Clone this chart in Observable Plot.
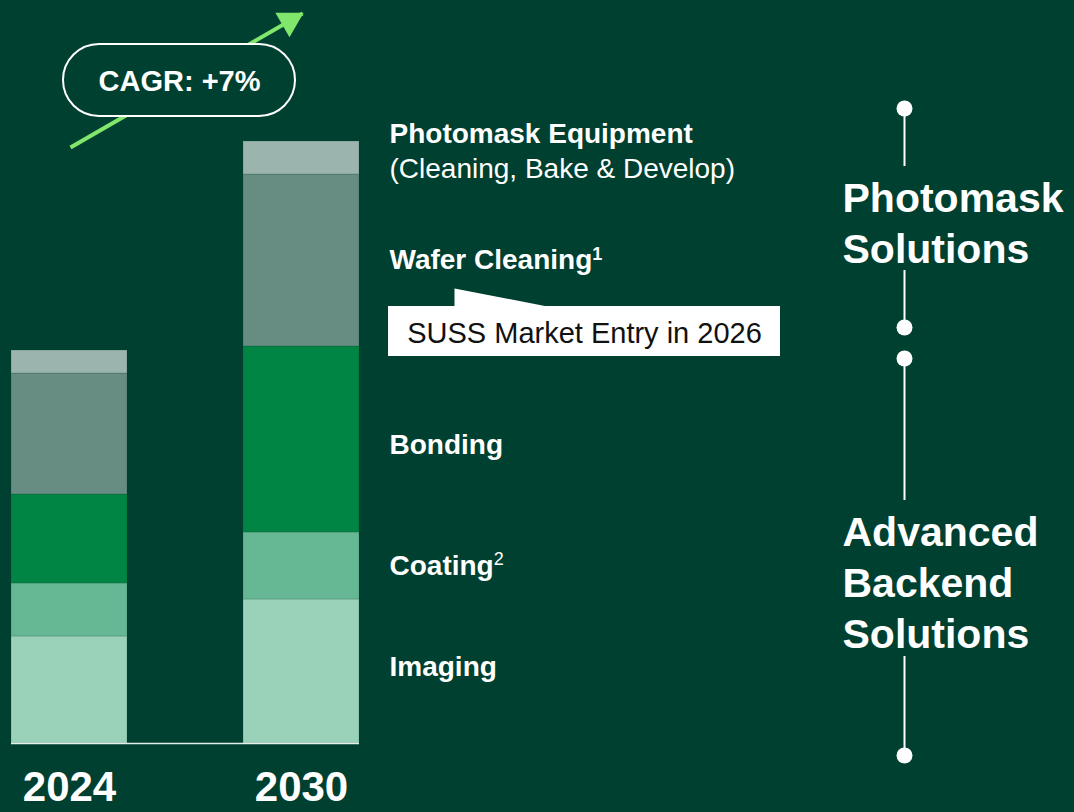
<!DOCTYPE html>
<html>
<head>
<meta charset="utf-8">
<script src="https://cdn.jsdelivr.net/npm/d3@7"></script>
<script src="https://cdn.jsdelivr.net/npm/@observablehq/plot@0.6"></script>
<style>
  html, body { margin: 0; padding: 0; background: #004030; }
  #chart svg { display: block; }
</style>
</head>
<body>
<div id="chart"></div>
<script>
// ---- data (relative market size, arbitrary units) ----
const years = ["2024", "2030"];
const segments = ["Imaging", "Coating", "Bonding", "Wafer Cleaning", "Photomask Equipment"];
const values2024 = [1.07, 0.53, 0.89, 1.21, 0.23];
const values2030 = [1.44, 0.67, 1.86, 1.72, 0.33];
const segmentLabels = ["Imaging", "Coating", "Bonding", "Wafer Cleaning", "Photomask Equipment"];
const segmentFootnotes = [null, "2", null, "1", null];
const segmentSublabels = [null, null, null, null, "(Cleaning, Bake & Develop)"];
const segmentColors = ["#9ad1b9", "#66b895", "#008545", "#678c81", "#9bb4ad"];

const cagrLabel = ["CAGR: +7%"];
const calloutLabel = ["SUSS Market Entry in 2026"];
const groupLabels = ["Photomask\nSolutions", "Advanced\nBackend\nSolutions"];

// annotation anchors (in y data units)
const cagrArrow = [{from: "2024", to: "2030", y1: 5.96, y2: 7.30}];
const cagrPill = [{y1: 6.27, y2: 6.99, ty: 6.62}];
const callout = [{y1: 3.87, y2: 4.37, ty: 4.10}];
const groupLabelY = [5.225, 1.631];
const bracketDotY = [6.35, 4.16, 3.85, -0.12];
const bracketSegs = [[6.35, 5.77], [4.73, 4.16], [3.85, 2.43], [0.87, -0.12]];

// ---- table built from arrays ----
const table = [];
years.forEach((year, yi) => {
  const vals = yi === 0 ? values2024 : values2030;
  segments.forEach((s, i) => table.push({
    year, segment: s, value: vals[i], label: segmentLabels[i],
    footnote: segmentFootnotes[i], sublabel: segmentSublabels[i]
  }));
});
const table2030 = table.filter(d => d.year === "2030");

const BG = "#004030";
const GREEN = "#80e66c";
const FONT = "'Liberation Sans', Arial, Helvetica, sans-serif";

const calloutPointer = {
  draw(ctx) {
    ctx.moveTo(0, 1);
    ctx.lineTo(0, -18);
    ctx.lineTo(98, 1);
    ctx.closePath();
  }
};

// per-label vertical nudges (px) for the single-line labels
const labelNudge = {"Imaging": -4, "Coating": 0, "Bonding": 6, "Wafer Cleaning": 0};

const labelMarks = Object.entries(labelNudge).map(([seg, dy]) =>
  Plot.text(table2030, Plot.stackY({x: "year", y: "value", z: "segment",
    text: d => d.segment === seg ? d.label : null, dx: 88, dy, textAnchor: "start",
    fontSize: 28, fontWeight: "bold", fill: "white", className: "seglabel"})));

const chart = Plot.plot({
  width: 1074,
  height: 812,
  marginLeft: 0,
  marginRight: 0,
  marginTop: 0,
  marginBottom: 69,
  style: {background: BG, fontFamily: FONT, color: "white"},
  x: {domain: years, range: [11, 359], paddingInner: 0.5, paddingOuter: 0, axis: null},
  y: {domain: [0, 7.43], axis: null},
  color: {domain: segments, range: segmentColors},
  marks: [
    Plot.barY(table, {x: "year", y: "value", fill: "segment", stroke: "#003a2b", strokeOpacity: 0.18, strokeWidth: 1}),
    Plot.ruleY([0], {x1: () => years[0], x2: () => years[1], stroke: "#e6efeb", strokeWidth: 1.6}),
    // year labels
    Plot.text(years, {x: d => d, text: d => d, frameAnchor: "bottom", dy: 57, fontSize: 42, fontWeight: "bold", fill: "white"}),
    // segment labels at 2030 segment midpoints
    ...labelMarks,
    Plot.text(table2030, Plot.stackY({x: "year", y: "value", z: "segment",
      text: d => d.sublabel ? d.label : null, dx: 88, dy: -24, textAnchor: "start", fontSize: 28, fontWeight: "bold", fill: "white"})),
    Plot.text(table2030, Plot.stackY({x: "year", y: "value", z: "segment",
      text: "sublabel", dx: 88, dy: 11, textAnchor: "start", fontSize: 28, fill: "white"})),
    // CAGR arrow
    Plot.link(cagrArrow, {x1: "from", x2: "to", y1: "y1", y2: "y2", dx: 1, stroke: GREEN, strokeWidth: 4}),
    Plot.dot(cagrArrow, {x: "to", y: d => d.y2 - 0.075, dx: -12, r: 10.5, symbol: "triangle", rotate: 60, fill: GREEN, stroke: "none"}),
    Plot.rect(cagrPill, {y1: "y1", y2: "y2", insetLeft: 63, insetRight: 779, rx: 36, fill: BG, stroke: "white", strokeWidth: 2}),
    Plot.text(cagrLabel, {x: () => years[0], y: () => cagrPill[0].ty, text: d => d, dx: 110, fontSize: 29, fontWeight: "bold", fill: "white"}),
    // callout
    Plot.rect(callout, {y1: "y1", y2: "y2", insetLeft: 388, insetRight: 294, fill: "white"}),
    Plot.dot(callout, {x: () => years[1], y: "y2", dx: 153, r: 10, symbol: calloutPointer, fill: "white", stroke: "none"}),
    Plot.text(calloutLabel, {x: () => years[1], y: () => callout[0].ty, text: d => d, dx: 283, fontSize: 29, fill: "#111"}),
    // right-hand brackets
    Plot.ruleX(bracketSegs, {x: () => years[1], y1: d => d[0], y2: d => d[1], dx: 603, stroke: "white", strokeWidth: 2}),
    Plot.dot(bracketDotY, {x: () => years[1], y: d => d, dx: 603, r: 8, fill: "white", stroke: "none"}),
    Plot.text(groupLabels, {x: () => years[1], y: (d, i) => groupLabelY[i], text: d => d, dx: 541, textAnchor: "start",
      lineHeight: 1.25, fontSize: 41, fontWeight: "bold", fill: "white"})
  ]
});

// footnote superscripts appended to the segment labels as tspans
d3.select(chart).selectAll("g.seglabel text").each(function () {
  const t = d3.select(this);
  const idx = segmentLabels.indexOf(t.text());
  const fn = idx >= 0 ? segmentFootnotes[idx] : null;
  if (fn) {
    t.append("tspan")
      .attr("dy", "-0.55em")
      .attr("font-size", 18)
      .attr("font-weight", fn === "2" ? "normal" : "bold")
      .text(fn);
  }
});

document.getElementById("chart").appendChild(chart);
</script>
</body>
</html>
